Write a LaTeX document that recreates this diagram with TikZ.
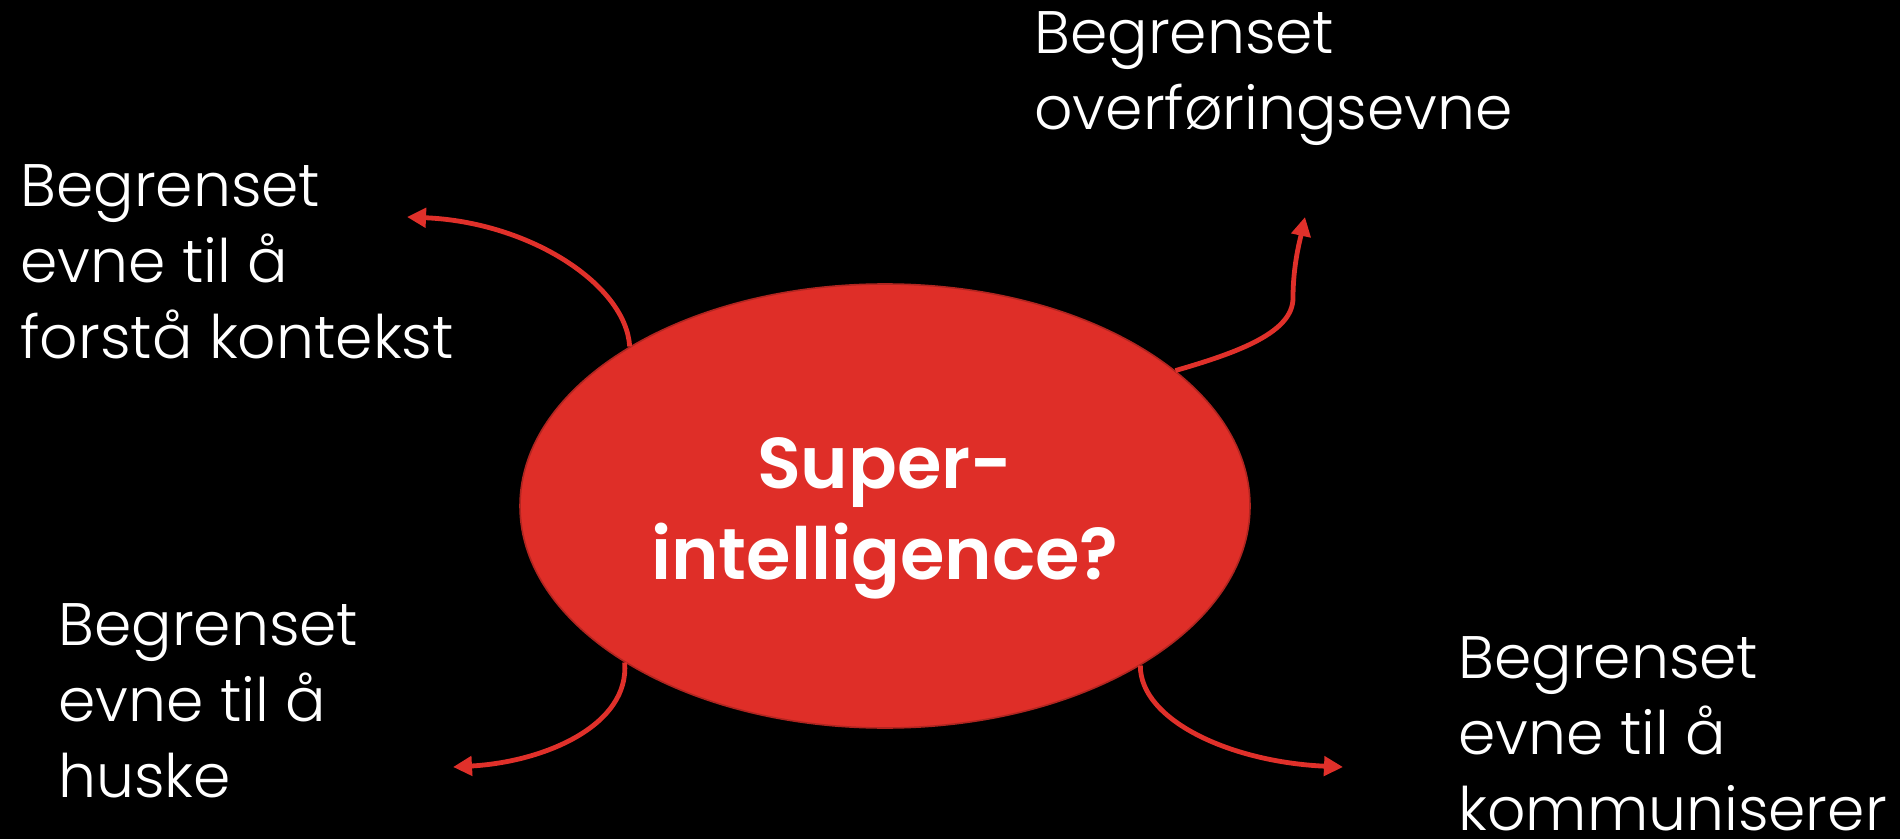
\documentclass[tikz,border=0pt]{standalone}
\usepackage{fontspec}
\setmainfont{Poppins}[UprightFont=* Light, BoldFont=* SemiBold]
\usetikzlibrary{arrows.meta,shapes.geometric}
\definecolor{bubble}{HTML}{DF2E28}
\definecolor{bubbleedge}{HTML}{B02520}
\definecolor{arrowred}{HTML}{E0302A}
\begin{document}
\begin{tikzpicture}[x=0.5pt,y=-0.5pt,
  lbl/.style={anchor=base west, align=left, inner sep=0pt, text=white,
    font=\fontsize{30pt}{38pt}\selectfont},
  conn/.style={draw=arrowred, line width=2.4pt, -{Triangle[length=9.5pt,width=9.5pt]}},
  bubblestyle/.style={ellipse, fill=bubble, draw=bubbleedge, line width=0.8pt,
    minimum width=365pt, minimum height=222pt, inner sep=0pt},
  bubbletext/.style={anchor=base, align=center, inner sep=0pt, text=white,
    font=\bfseries\fontsize{36pt}{45.5pt}\selectfont}]
\fill[black] (0,0) rectangle (1900,839);
\useasboundingbox (0,0) rectangle (1900,839);

\coordinate (t1) at (407,217);
\coordinate (t2) at (1305,217);
\coordinate (t3) at (453,767);
\coordinate (t4) at (1343,767);

\node[bubblestyle] (sup) at (885,506) {};
\node[bubbletext] (suptext) at (885,579) {Super-\\intelligence?};

\draw[conn] (sup.148.3) .. controls (626,285) and (530,222) .. (t1);
\draw[conn] (sup.25.5) .. controls (1240,352) and (1293,332) .. (1293,298) .. controls (1293,265) and (1300,240) .. (t2);
\draw[conn] (sup.211.4) .. controls (630,725) and (545,762) .. (t3);
\draw[conn] (sup.328.6) .. controls (1140,720) and (1230,762) .. (t4);

\node[lbl] (l1) at (20,359) {Begrenset\\evne til å\\forstå kontekst};
\node[lbl] (l2) at (1034,130) {Begrenset\\overføringsevne};
\node[lbl] (l3) at (58,797) {Begrenset\\evne til å\\huske};
\node[lbl] (l4) at (1458,830) {Begrenset\\evne til å\\kommuniserer};
\end{tikzpicture}
\end{document}
